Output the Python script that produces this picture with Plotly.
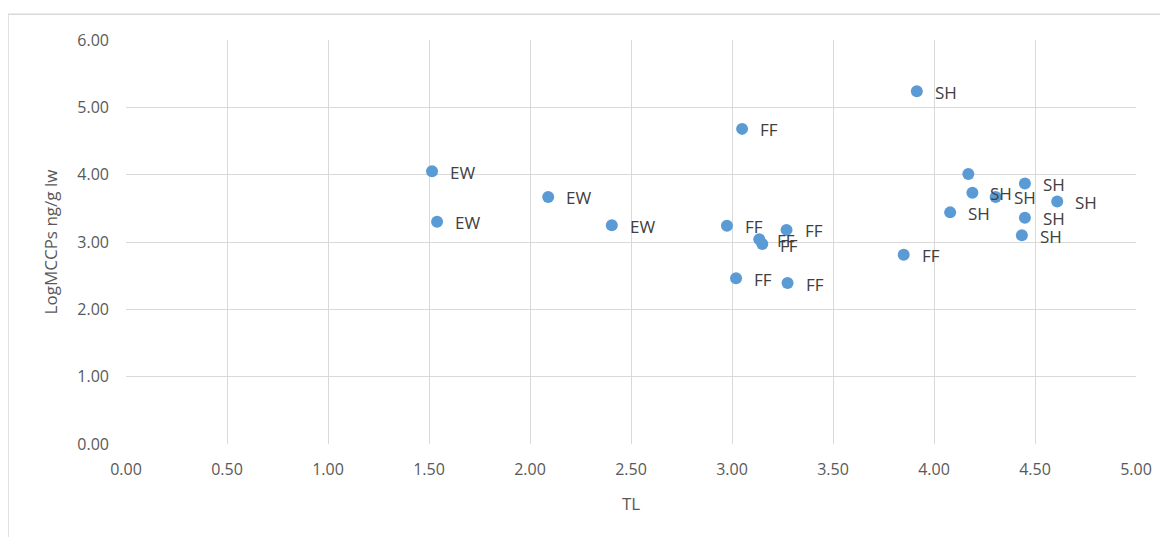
import plotly.graph_objects as go

# trophic level (TL) vs log MCCPs concentration, one label per point
tl = [1.515, 1.54, 2.09, 2.405,
      3.05, 2.975, 3.135, 3.15, 3.27, 3.02, 3.275, 3.85,
      3.915, 4.17, 4.45, 4.19, 4.305, 4.61, 4.08, 4.45, 4.435]
log_mccp = [4.05, 3.30, 3.67, 3.25,
            4.68, 3.24, 3.04, 2.97, 3.18, 2.46, 2.39, 2.81,
            5.24, 4.01, 3.87, 3.73, 3.67, 3.60, 3.44, 3.36, 3.10]
# the point at (4.17, 4.01) shows no label in the original
group = ["EW", "EW", "EW", "EW",
         "FF", "FF", "FF", "FF", "FF", "FF", "FF", "FF",
         "SH", "", "SH", "SH", "SH", "SH", "SH", "SH", "SH"]

x_ticks = [0, 0.5, 1, 1.5, 2, 2.5, 3, 3.5, 4, 4.5, 5]
y_ticks = [0, 1, 2, 3, 4, 5, 6]

font_family = "Open Sans, Liberation Sans, sans-serif"

fig = go.Figure()
fig.add_trace(go.Scatter(
    x=tl, y=log_mccp, mode="markers",
    marker=dict(color="#5b9bd5", size=12),
    hoverinfo="x+y", showlegend=False,
))

for xv, yv, lab in zip(tl, log_mccp, group):
    if not lab:
        continue
    fig.add_annotation(
        x=xv, y=yv, text=lab, showarrow=False,
        xanchor="left", yanchor="middle", xshift=16, yshift=-1,
        font=dict(size=17, color="#404040", family=font_family),
    )

# light outer chart border (Excel chart-area frame, partly cropped)
fig.add_shape(
    type="rect", xref="paper", yref="paper",
    x0=-0.1168, x1=1.1, y0=-0.3, y1=1.064,
    line=dict(color="#d9d9d9", width=1.5), fillcolor="rgba(0,0,0,0)",
    layer="below",
)

# page body has an 8px margin, so the figure is sized/margined to compensate
fig.update_layout(
    width=1160, height=529,
    paper_bgcolor="white", plot_bgcolor="white",
    font=dict(family=font_family, color="#595959", size=16),
    margin=dict(l=118, r=32, t=32, b=93),
    xaxis=dict(
        range=[0, 5], tickvals=x_ticks,
        ticktext=[f"{v:.2f}" for v in x_ticks],
        gridcolor="#d9d9d9", zeroline=False, showline=False,
        title=dict(text="TL", font=dict(size=17, color="#595959"), standoff=19),
        ticks="", ticklabelstandoff=14,
    ),
    yaxis=dict(
        range=[0, 6], tickvals=y_ticks,
        ticktext=[f"{v:.2f}" for v in y_ticks],
        gridcolor="#d9d9d9", zeroline=False, showline=False,
        title=dict(text="LogMCCPs ng/g lw", font=dict(size=17, color="#595959"), standoff=15),
        ticks="", ticklabelstandoff=16,
    ),
)

fig.write_html("out.html")
